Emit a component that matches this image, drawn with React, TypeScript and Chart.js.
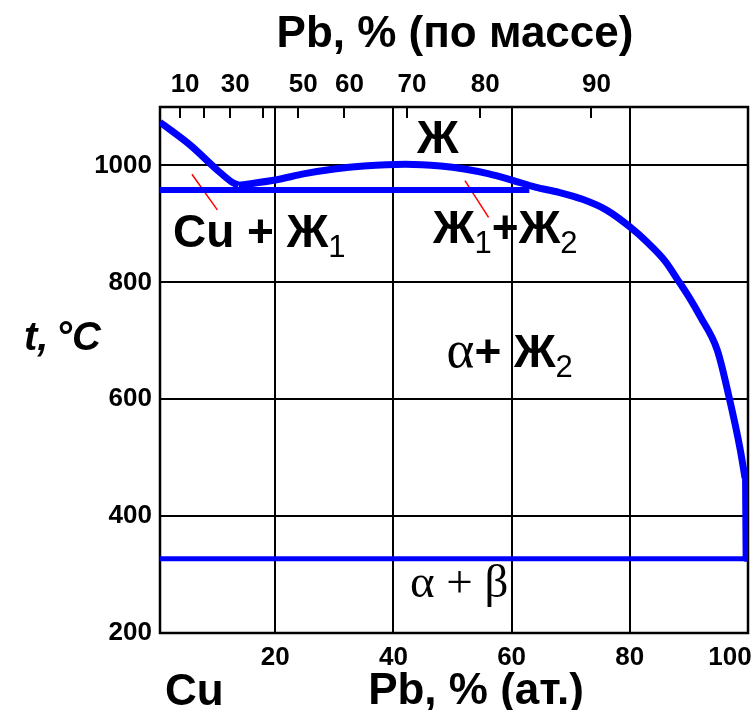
import React, { useEffect, useRef } from 'react';
import { Chart, registerables } from 'chart.js';

Chart.register(...registerables);

// ---- Axes ----
const xMin = 0.5;
const xMax = 100;
const xTicks = [20, 40, 60, 80, 100]; // Pb, at.%
const yMin = 200;
const yMax = 1100;
const yTicks = [200, 400, 600, 800, 1000]; // t, °C
// top axis: mass % ticks, positioned in at.%
const massTickPos = [3.9, 7.9, 12.4, 17.9, 23.9, 31.7, 42.3, 54.7, 73.5];
const massTickLabels = ['10', '', '30', '', '50', '60', '70', '80', '90'];

// ---- Phase boundaries ----
const leftLiqX = [0.5, 5.6, 10.1, 12.6, 13.8];
const leftLiqT = [1074, 1035, 993, 972, 966];

const domeX = [13.8, 20, 25, 30, 35, 42, 48, 52, 56, 60, 64, 68, 72, 76, 80, 83, 86, 88, 90, 92, 94.8, 96.9, 98.7, 99.5];
const domeT = [966, 975, 986, 994, 999, 1002, 999, 994, 986, 975, 963, 954, 942, 924, 895, 868, 836, 806, 775, 740, 684, 599, 513, 465];

const pbSideX = [99.5, 99.6];
const pbSideT = [465, 327];

const monoX = [0.5, 63];
const monoT = [958, 958];

const eutX = [0.5, 99.6];
const eutT = [327, 327];

const lead1X = [5.9, 10.2];
const lead1T = [985, 924];
const lead2X = [52.1, 56.1];
const lead2T = [974, 911];

// ---- Phase labels (anchor: left x, baseline t) ----
type Part = { s: string; f: string };
const phaseLabels: { x: number; t: number; parts: Part[] }[] = [
  { x: 44.0, t: 1021, parts: [{ s: 'Ж', f: 'b' }] },
  { x: 2.7, t: 860, parts: [{ s: 'Cu + Ж', f: 'b' }, { s: '1', f: 'sub' }] },
  { x: 46.7, t: 867, parts: [{ s: 'Ж', f: 'b' }, { s: '1', f: 'sub' }, { s: '+Ж', f: 'b' }, { s: '2', f: 'sub' }] },
  { x: 49.0, t: 655, parts: [{ s: 'α', f: 'ga' }, { s: '+ Ж', f: 'b' }, { s: '2', f: 'sub' }] },
  { x: 42.8, t: 262, parts: [{ s: 'α + β', f: 'g' }] },
];

const SANS = '"Liberation Sans", Arial, sans-serif';
const SERIF = '"Liberation Serif", "Times New Roman", serif';
const fonts: Record<string, string> = {
  b: `bold 46px ${SANS}`,
  sub: `31px ${SANS}`,
  g: `47px ${SERIF}`,
  ga: `53px ${SERIF}`,
};

const pts = (xs: number[], ts: number[]) => xs.map((x, i) => ({ x, y: ts[i] }));

const annotPlugin = {
  id: 'annot',
  beforeDatasetsDraw(chart: any) {
    const { ctx, chartArea: a, scales } = chart;
    ctx.save();
    ctx.strokeStyle = '#000';
    ctx.lineWidth = 2;
    const x2 = scales.x2;
    massTickPos.forEach((p) => {
      const px = Math.round(x2.getPixelForValue(p));
      ctx.beginPath();
      ctx.moveTo(px, a.top);
      ctx.lineTo(px, a.top + 11);
      ctx.stroke();
    });
    ctx.lineWidth = 2.5;
    ctx.strokeRect(a.left, a.top, a.right - a.left, a.bottom - a.top);
    ctx.restore();
  },
  afterDatasetsDraw(chart: any) {
    const { ctx, scales } = chart;
    ctx.save();
    ctx.fillStyle = '#000';
    ctx.textBaseline = 'alphabetic';
    ctx.textAlign = 'left';
    phaseLabels.forEach((lab) => {
      let px = scales.x.getPixelForValue(lab.x);
      const py = scales.y.getPixelForValue(lab.t);
      lab.parts.forEach((p) => {
        ctx.font = fonts[p.f];
        const dy = p.f === 'sub' ? 10 : 0;
        ctx.fillText(p.s, px, py + dy);
        px += ctx.measureText(p.s).width;
      });
    });
    ctx.restore();
  },
  afterDraw(chart: any) {
    const { ctx } = chart;
    ctx.save();
    ctx.fillStyle = '#000';
    ctx.textBaseline = 'alphabetic';
    ctx.font = `bold 44px ${SANS}`;
    ctx.textAlign = 'center';
    ctx.fillText('Pb, % (по массе)', 455, 47);
    ctx.fillText('Pb, % (ат.)', 476, 704);
    ctx.textAlign = 'left';
    ctx.fillText('Cu', 165, 705);
    ctx.font = `italic bold 40px ${SANS}`;
    ctx.fillText('t,', 24, 350);
    ctx.fillText('°C', 56, 350);
    ctx.restore();
  },
};

const tickFont = { family: SANS, size: 26, weight: 'bold' as const };

export default function App() {
  const ref = useRef<HTMLCanvasElement | null>(null);
  useEffect(() => {
    if (!ref.current) return;
    const blue = '#0000ff';
    const red = '#ff0000';
    const chart = new Chart(ref.current, {
      type: 'line',
      data: {
        datasets: [
          { data: pts(leftLiqX, leftLiqT), borderColor: blue, borderWidth: 7, cubicInterpolationMode: 'monotone' },
          { data: pts(domeX, domeT), borderColor: blue, borderWidth: 7, cubicInterpolationMode: 'monotone' },
          { data: pts(pbSideX, pbSideT), borderColor: blue, borderWidth: 6 },
          { data: pts(monoX, monoT), borderColor: blue, borderWidth: 6 },
          { data: pts(eutX, eutT), borderColor: blue, borderWidth: 5 },
          { data: pts(lead1X, lead1T), borderColor: red, borderWidth: 1.5 },
          { data: pts(lead2X, lead2T), borderColor: red, borderWidth: 1.5 },
        ].map((d) => ({ ...d, pointRadius: 0, fill: false, borderJoinStyle: 'round' as const, xAxisID: 'x', yAxisID: 'y' })),
      },
      options: {
        animation: false,
        responsive: false,
        devicePixelRatio: 1,
        layout: { padding: { left: 0, right: 3, top: 0, bottom: 0 } },
        plugins: { legend: { display: false }, tooltip: { enabled: false } },
        events: [],
        scales: {
          x: {
            type: 'linear',
            position: 'bottom',
            min: xMin,
            max: xMax,
            afterBuildTicks: (s: any) => { s.ticks = xTicks.map((v) => ({ value: v })); },
            afterFit: (s: any) => { s.height = 77; s.paddingLeft = 0; s.paddingRight = 0; },
            grid: { color: '#000', lineWidth: 2, drawTicks: false },
            border: { display: false },
            ticks: {
              font: tickFont,
              color: '#000',
              padding: 9,
              maxRotation: 0,
              autoSkip: false,
              callback: (v: any) => (v === 100 ? '100' + '\u00a0'.repeat(5) : String(v)),
            },
          },
          x2: {
            type: 'linear',
            position: 'top',
            min: xMin,
            max: xMax,
            afterBuildTicks: (s: any) => { s.ticks = massTickPos.map((v) => ({ value: v })); },
            afterFit: (s: any) => { s.height = 107; s.paddingLeft = 0; s.paddingRight = 0; },
            grid: { display: false, drawTicks: false },
            border: { display: false },
            ticks: {
              font: tickFont,
              color: '#000',
              padding: 7,
              labelOffset: 5,
              maxRotation: 0,
              autoSkip: false,
              callback: (_v: any, i: number) => massTickLabels[i],
            },
          },
          y: {
            type: 'linear',
            min: yMin,
            max: yMax,
            afterBuildTicks: (s: any) => { s.ticks = yTicks.map((v) => ({ value: v })); },
            afterFit: (s: any) => { s.width = 160; s.paddingTop = 0; s.paddingBottom = 0; },
            grid: { color: '#000', lineWidth: 2, drawTicks: false },
            border: { display: false },
            ticks: { font: tickFont, color: '#000', padding: 8, callback: (v: any) => String(v) },
          },
        },
      },
      plugins: [annotPlugin],
    } as any);
    return () => chart.destroy();
  }, []);
  return (
    <div style={{ position: 'absolute', left: 0, top: 0, width: 751, height: 710, background: '#fff' }}>
      <canvas ref={ref} width={751} height={710} style={{ display: 'block', width: 751, height: 710 }} />
    </div>
  );
}
